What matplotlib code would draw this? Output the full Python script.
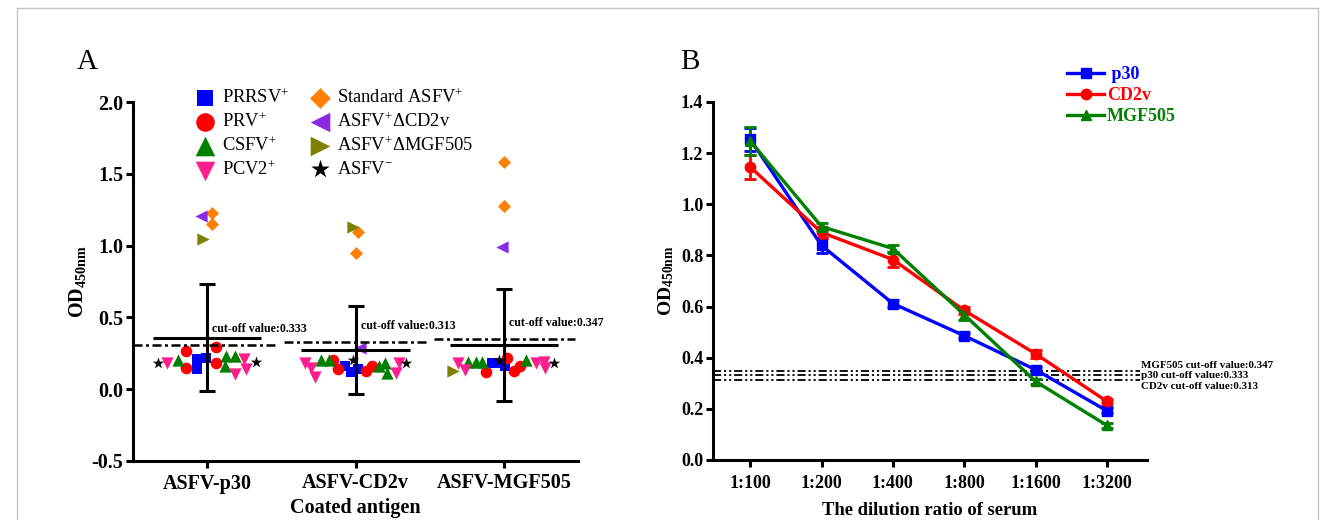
import matplotlib
matplotlib.use('Agg')
import matplotlib.pyplot as plt
from matplotlib.patches import Rectangle
import numpy as np

plt.rcParams['font.family'] = ['Liberation Serif', 'DejaVu Serif']
plt.rcParams['mathtext.fontset'] = 'custom'
plt.rcParams['mathtext.rm'] = 'Liberation Serif'
plt.rcParams['mathtext.it'] = 'Liberation Serif:italic'
plt.rcParams['mathtext.bf'] = 'Liberation Serif:bold'

# ---------------- Panel A data ----------------
antigens = ["ASFV-p30", "ASFV-CD2v", "ASFV-MGF505"]

prrsv_cat = [0, 0, 0, 1, 1, 1, 2, 2, 2]
prrsv_dx = [-0.07, -0.07, -0.01, -0.07, -0.03, 0.02, -0.08, -0.02, 0.01]
prrsv_od = [0.21, 0.14, 0.215, 0.16, 0.12, 0.14, 0.18, 0.18, 0.16]

prv_cat = [0, 0, 0, 0, 1, 1, 1, 1, 2, 2, 2, 2]
prv_dx = [-0.14, -0.14, 0.06, 0.06, -0.15, -0.12, 0.07, 0.11, -0.12, 0.02, 0.07, 0.11]
prv_od = [0.268, 0.145, 0.296, 0.185, 0.20, 0.14, 0.13, 0.16, 0.122, 0.22, 0.13, 0.16]

csfv_cat = [0, 0, 0, 0, 1, 1, 1, 1, 1, 2, 2, 2, 2]
csfv_dx = [-0.20, 0.13, 0.12, 0.19, -0.23, -0.18, 0.16, 0.20, 0.21, -0.24, -0.19, -0.15, 0.15]
csfv_od = [0.20, 0.23, 0.16, 0.23, 0.20, 0.20, 0.16, 0.18, 0.11, 0.19, 0.19, 0.19, 0.20]

pcv2_cat = [0, 0, 0, 0, 1, 1, 1, 1, 1, 2, 2, 2, 2, 2]
pcv2_dx = [-0.27, 0.19, 0.25, 0.26, -0.34, -0.30, -0.27, 0.27, 0.29, -0.31, -0.26, 0.22, 0.27, 0.28]
pcv2_od = [0.185, 0.106, 0.21, 0.14, 0.18, 0.15, 0.087, 0.115, 0.18, 0.18, 0.133, 0.185, 0.19, 0.145]

std_cat = [0, 0, 1, 1, 2, 2]
std_dx = [0.03, 0.03, 0.02, 0.0, 0.0, 0.0]
std_od = [1.225, 1.15, 1.097, 0.946, 1.584, 1.276]

dcd2v_cat = [0, 1, 2]
dcd2v_dx = [-0.04, 0.03, -0.01]
dcd2v_od = [1.206, 0.285, 0.992]

dmgf_cat = [0, 1, 2]
dmgf_dx = [-0.03, -0.02, -0.34]
dmgf_od = [1.044, 1.127, 0.13]

neg_cat = [0, 0, 1, 1, 2, 2]
neg_dx = [-0.33, 0.33, -0.02, 0.34, -0.03, 0.34]
neg_od = [0.185, 0.19, 0.20, 0.185, 0.20, 0.18]

group_mean = [0.357, 0.273, 0.308]
group_sd = [0.373, 0.307, 0.389]
cutoff_line_A = [0.308, 0.330, 0.350]
cutoff_text_A = ["cut-off value:0.333", "cut-off value:0.313", "cut-off value:0.347"]

# ---------------- Panel B data ----------------
dilutions = ["1:100", "1:200", "1:400", "1:800", "1:1600", "1:3200"]
p30_od = [1.255, 0.839, 0.612, 0.486, 0.353, 0.192]
p30_err = [0.045, 0.03, 0.012, 0.01, 0.012, 0.01]
cd2v_od = [1.146, 0.89, 0.784, 0.585, 0.415, 0.229]
cd2v_err = [0.048, 0.02, 0.03, 0.015, 0.015, 0.01]
mgf_od = [1.248, 0.913, 0.827, 0.568, 0.307, 0.135]
mgf_err = [0.055, 0.015, 0.015, 0.02, 0.01, 0.01]
cutoff_B = [0.347, 0.333, 0.313]
cutoff_text_B = ["MGF505 cut-off value:0.347", "p30 cut-off value:0.333", "CD2v cut-off value:0.313"]

# ---------------- Figure ----------------
fig = plt.figure(figsize=(13.28, 5.2), dpi=100)
fig.patches.append(Rectangle((17 / 1328, -0.02), (1318 - 17) / 1328, 1.02 - 8 / 520,
                             transform=fig.transFigure, fill=False,
                             edgecolor='#C4C4C4', lw=1.0))

LW = 2.2

# ---- Panel A ----
axA = fig.add_axes([133 / 1328, 1 - 461 / 520, 445 / 1328, 359 / 520])
series = [
    (prrsv_cat, prrsv_dx, prrsv_od, 's', '#0000FF', 55, r"PRRSV$^{+}$"),
    (prv_cat, prv_dx, prv_od, 'o', '#FF0000', 70, r"PRV$^{+}$"),
    (csfv_cat, csfv_dx, csfv_od, '^', '#008000', 78, r"CSFV$^{+}$"),
    (pcv2_cat, pcv2_dx, pcv2_od, 'v', '#FF1E8C', 78, r"PCV2$^{+}$"),
    (std_cat, std_dx, std_od, 'D', '#FF7F00', 44, r"Standard ASFV$^{+}$"),
    (dcd2v_cat, dcd2v_dx, dcd2v_od, '<', '#8A2BE2', 78, r"ASFV$^{+}$ΔCD2v"),
    (dmgf_cat, dmgf_dx, dmgf_od, '>', '#808000', 78, r"ASFV$^{+}$ΔMGF505"),
    (neg_cat, neg_dx, neg_od, '*', '#000000', 75, r"ASFV$^{-}$"),
]
handles = []
for cat, dx, od, mk, col, s, lab in series:
    xs = np.array(cat) + np.array(dx)
    h = axA.scatter(xs, od, marker=mk, s=s, color=col, linewidths=0, zorder=3, label=lab)
    handles.append(h)

cats = np.arange(len(antigens))
axA.hlines(group_mean, cats - 0.365, cats + 0.365, colors='k', lw=LW, zorder=5)
axA.errorbar(cats, group_mean, yerr=group_sd, fmt='none', ecolor='k', elinewidth=LW,
             capsize=5.5, capthick=LW, zorder=5)
starts = [-0.5, 0.52, 1.53]
for i, (c, v) in enumerate(zip(cats, cutoff_line_A)):
    axA.plot([starts[i], c + 0.48], [v, v], color='k', lw=1.8,
             linestyle=(0, (3.6, 1.4, 1.2, 1.4)), zorder=4, clip_on=False)
    axA.text(c + 0.035, v + 0.11, cutoff_text_A[i], fontsize=8.6, fontweight='bold',
             ha='left', va='center', zorder=6)

axA.set_xlim(-0.5, 2.5)
axA.set_ylim(-0.5, 2.0)
axA.set_yticks([-0.5, 0.0, 0.5, 1.0, 1.5, 2.0])
axA.set_yticklabels(["-0.5", "0.0", "0.5", "1.0", "1.5", "2.0"])
axA.set_xticks(cats)
axA.set_xticklabels(antigens)
for sp in ['top', 'right']:
    axA.spines[sp].set_visible(False)
for sp in ['left', 'bottom']:
    axA.spines[sp].set_linewidth(LW)
axA.tick_params(axis='both', direction='out', length=5, width=LW, labelsize=14.5, pad=2)
axA.tick_params(axis='x', pad=4)
for t in axA.get_xticklabels() + axA.get_yticklabels():
    t.set_fontweight('bold')
axA.set_xlabel("Coated antigen", fontsize=14.5, fontweight='bold', labelpad=3)
axA.set_ylabel(r"$\mathbf{OD}_{\mathbf{450nm}}$", fontsize=14.5)
axA.yaxis.set_label_coords(-0.1, 0.5)

legA = axA.legend(handles=handles, ncol=2, loc='upper left',
                  bbox_to_anchor=(196 / 1328, 1 - 88 / 520), bbox_transform=fig.transFigure,
                  frameon=False, fontsize=13.3, markerscale=1.6, handlelength=1.0,
                  handletextpad=0.42, columnspacing=1.15, labelspacing=0.3,
                  borderpad=0, borderaxespad=0)

fig.text(77 / 1328, 1 - 69 / 520, "A", fontsize=21, ha='left', va='baseline')

# ---- Panel B ----
axB = fig.add_axes([713 / 1328, 1 - 460 / 520, 434 / 1328, 358 / 520])
xb = np.arange(len(dilutions))
legend_handles = []
for od, err, col, mk, lab in [(p30_od, p30_err, '#0000FF', 's', ' p30'),
                              (cd2v_od, cd2v_err, '#FF0000', 'o', 'CD2v'),
                              (mgf_od, mgf_err, '#008000', '^', 'MGF505')]:
    axB.errorbar(xb, od, yerr=err, fmt='none', ecolor=col, capsize=4, capthick=2,
                 elinewidth=2, zorder=3)
    ln, = axB.plot(xb, od, color=col, lw=2.4, marker=mk, markersize=7.5, label=lab, zorder=4)
    legend_handles.append(ln)

axB.set_xlim(-0.52, 5.56)
axB.set_ylim(0, 1.4)
x_end = 5.46
for v in cutoff_B:
    axB.plot([-0.52, x_end], [v, v], color='k', lw=1.3,
             linestyle=(0, (4.5, 1.6, 1.2, 1.6, 1.2, 1.6)), zorder=2, clip_on=False)
label_y = [0.368, 0.329, 0.287]
for ty, txt in zip(label_y, cutoff_text_B):
    axB.text(x_end + 0.015, ty, txt, fontsize=7.9, fontweight='bold', ha='left',
             va='center', clip_on=False, zorder=6)

axB.set_yticks(np.round(np.arange(0, 1.41, 0.2), 1))
axB.set_yticklabels([f"{v:.1f}" for v in np.arange(0, 1.41, 0.2)])
axB.set_xticks(xb)
axB.set_xticklabels(dilutions)
for sp in ['top', 'right']:
    axB.spines[sp].set_visible(False)
for sp in ['left', 'bottom']:
    axB.spines[sp].set_linewidth(LW)
axB.tick_params(axis='both', direction='out', length=5, width=LW, labelsize=13, pad=2)
axB.tick_params(axis='x', pad=6)
for t in axB.get_xticklabels() + axB.get_yticklabels():
    t.set_fontweight('bold')
axB.set_xlabel("The dilution ratio of serum", fontsize=13.4, fontweight='bold', labelpad=7)
axB.set_ylabel(r"$\mathbf{OD}_{\mathbf{450nm}}$", fontsize=14)
axB.yaxis.set_label_coords(-0.085, 0.5)

legB = axB.legend(handles=legend_handles, loc='upper left',
                  bbox_to_anchor=(1067 / 1328, 1 - 66 / 520),
                  bbox_transform=fig.transFigure, frameon=False, fontsize=13,
                  handlelength=2.05, handletextpad=0.15, labelspacing=0.22,
                  borderpad=0, borderaxespad=0)
for t, c in zip(legB.get_texts(), ['#0000FF', '#FF0000', '#008000']):
    t.set_color(c)
    t.set_fontweight('bold')

fig.text(680 / 1328, 1 - 69 / 520, "B", fontsize=21, ha='left', va='baseline')

fig.savefig("out.png", dpi=100)
